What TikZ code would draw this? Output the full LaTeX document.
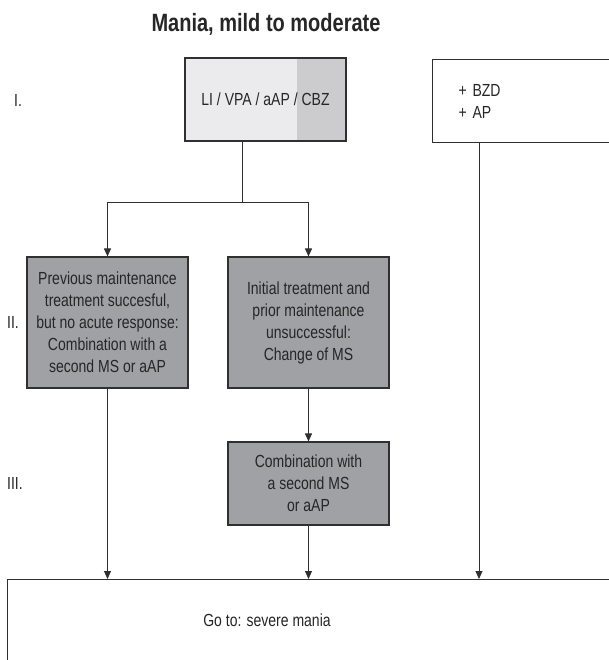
\documentclass[tikz,border=0pt]{standalone}
\usepackage{fontspec}
\setmainfont[FakeStretch=0.8]{Liberation Sans}
\usetikzlibrary{arrows.meta,positioning}
\definecolor{stepgrey}{HTML}{A0A1A4}
\definecolor{lightpart}{HTML}{EBEBED}
\definecolor{darkpart}{HTML}{CCCCCE}
\definecolor{edgegrey}{HTML}{303030}

\begin{document}
\begin{tikzpicture}[x=1pt, y=-1pt, every node/.style={font=\fontsize{17.5}{22}\selectfont, inner sep=0pt, text=black!85},
    greybox/.style={draw=edgegrey, line width=1.1pt, fill=stepgrey, minimum width=161pt, align=center},
    flow/.style={-{Triangle[length=8pt,width=7pt]}, line width=0.9pt, draw=edgegrey}]
            \useasboundingbox (0,0) rectangle (608,660);
            \node[anchor=base] (title) at (266,32) {\fontsize{25}{28}\selectfont\bfseries Mania, mild to moderate};
            % level labels
            \node[anchor=west] (lvlI) at (14,100) {I.};
            \node[anchor=west] (lvlII) at (7,322) {II.};
            \node[anchor=west] (lvlIII) at (7,483) {III.};
            % first line
            \node[draw=edgegrey, line width=1.1pt, fill=lightpart, minimum width=161pt, minimum height=83pt,
                  path picture={\fill[darkpart] ([xshift=-49pt]path picture bounding box.north east) rectangle (path picture bounding box.south east);}]
                  (first) at (265.5,99.5) {LI / VPA / aAP / CBZ};
            \node[draw=edgegrey, line width=1.1pt, anchor=north west, minimum height=83pt, text width=150pt, inner xsep=26pt, align=left]
                  (addon) at (432,59) {+ BZD\\+ AP};
            % second and third line
            \node[greybox, minimum height=131pt] (prev) at (107.5,322.5) {Previous maintenance\\treatment succesful,\\but no acute response:\\Combination with a\\second MS or aAP};
            \node[greybox, minimum height=131pt] (change) at (308.5,322.5) {Initial treatment and\\prior maintenance\\unsuccessful:\\Change of MS};
            \node[greybox, minimum height=83pt] (combo) at (308.5,483.5) {Combination with\\a second MS\\or aAP};
            % severe mania
            \node[draw=edgegrey, line width=1.1pt, anchor=north west, minimum width=700pt, minimum height=150pt] (severe) at (7,579) {};
            \node (gotext) at (267,620) {Go to: severe mania};

            \coordinate (split) at (242,202);
            \draw[line width=0.9pt, draw=edgegrey] (first.south -| split) -- (split);
            \draw[flow] (split) -| (prev.north);
            \draw[flow] (split) -| (change.north);
            \draw[flow] (change) -- (combo);
            \draw[flow] (prev.south) -- (prev.south |- severe.north);
            \draw[flow] (combo.south) -- (combo.south |- severe.north);
            \draw[flow] ([xshift=47pt]addon.south west) -- ([xshift=47pt]addon.south west |- severe.north);
            \end{tikzpicture}
\end{document}
